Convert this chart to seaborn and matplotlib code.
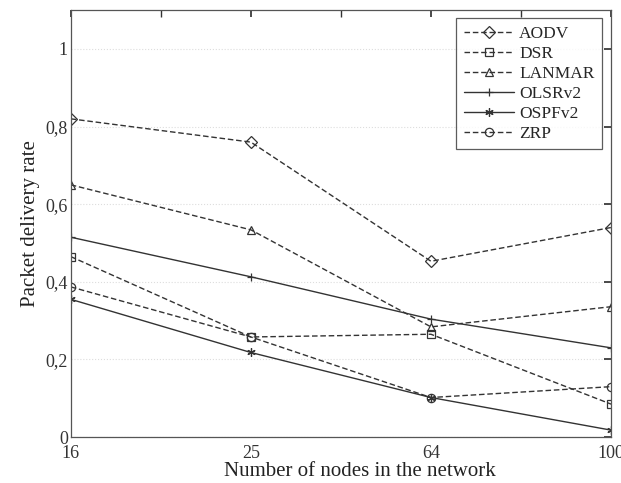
import numpy as np
import pandas as pd
import seaborn as sns
import matplotlib.pyplot as plt
from matplotlib.ticker import FixedLocator

# Datos
nodes = ["16", "25", "64", "100"]
aodv = [0.82, 0.76, 0.453, 0.540]
dsr = [0.465, 0.258, 0.265, 0.085]
lanmar = [0.650, 0.534, 0.284, 0.336]
olsrv2 = [0.515, 0.413, 0.304, 0.230]
ospfv2 = [0.355, 0.218, 0.102, 0.018]
zrp = [0.387, 0.258, 0.102, 0.130]

protocols = ["AODV", "DSR", "LANMAR", "OLSRv2", "OSPFv2", "ZRP"]
series = [aodv, dsr, lanmar, olsrv2, ospfv2, zrp]

sns.set_theme(style="white")
plt.rcParams['font.family'] = ['Liberation Serif', 'DejaVu Serif']

rows = []
for name, vals in zip(protocols, series):
    for i, v in enumerate(vals):
        rows.append([name, i, v])
df = pd.DataFrame(rows, columns=['protocol', 'pos', 'rate'])

markers = {"AODV": "D", "DSR": "s", "LANMAR": "^", "OLSRv2": "+", "OSPFv2": (6, 2, 0), "ZRP": "o"}
dashes = {"AODV": (4, 2), "DSR": (4, 2), "LANMAR": (4, 2), "OLSRv2": "", "OSPFv2": "", "ZRP": (4, 2)}

fig, ax = plt.subplots(figsize=(6.21, 4.83), dpi=100)
fig.subplots_adjust(left=0.114, right=0.984, bottom=0.095, top=0.979)

for name in protocols:
    sub = df[df['protocol'] == name]
    sns.lineplot(data=sub, x='pos', y='rate', ax=ax, color='#333333', linewidth=1.0,
                 marker=markers[name], markersize=6, markerfacecolor='none',
                 markeredgecolor='#333333', markeredgewidth=0.9, label=name)
    if dashes[name]:
        ax.lines[-1].set_dashes(dashes[name])

ax.set_xlim(0, 3)
ax.set_ylim(0, 1.1)
ax.set_xticks(range(4))
ax.set_xticklabels(nodes)
ax.xaxis.set_minor_locator(FixedLocator([0.5, 1.5, 2.5]))
ax.set_yticks([0, 0.2, 0.4, 0.6, 0.8, 1.0])
ax.set_yticklabels(["0", "0,2", "0,4", "0,6", "0,8", "1"])
ax.tick_params(axis='both', which='both', direction='in', top=True, right=True,
               labelsize=13, colors='#333333', length=5)
ax.tick_params(axis='x', which='major', pad=6)
ax.tick_params(axis='y', which='major', pad=2)
ax.grid(axis='y', color='#dddddd', linestyle=':', linewidth=0.8)
for s in ax.spines.values():
    s.set_color('#555555')
    s.set_linewidth(0.9)

ax.set_xlabel('Number of nodes in the network', fontsize=15, color='#222222', labelpad=1)
ax.xaxis.set_label_coords(0.535, -0.058)
ax.set_ylabel('Packet delivery rate', fontsize=15, color='#222222', labelpad=4)

leg = ax.legend(loc='upper right', bbox_to_anchor=(0.984, 0.982), fontsize=12.5,
                frameon=True, fancybox=False, edgecolor='#333333', handlelength=2.9,
                borderaxespad=0.0, labelspacing=0.22, handletextpad=0.3, borderpad=0.45)
leg.get_frame().set_linewidth(0.9)

plt.savefig('out.png', dpi=100)
